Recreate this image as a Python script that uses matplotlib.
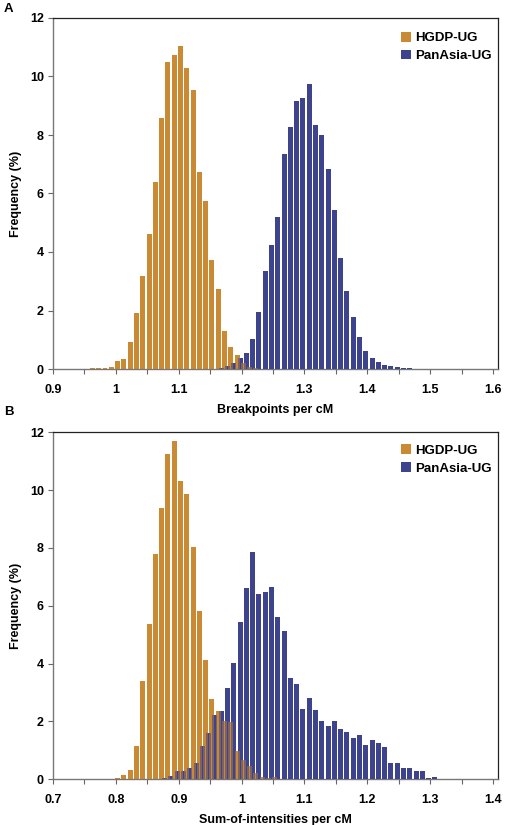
import numpy as np
import matplotlib
matplotlib.use("Agg")
import matplotlib.pyplot as plt
from matplotlib.patches import Patch
from matplotlib.ticker import MultipleLocator

plt.rcParams['font.family'] = ['Liberation Sans', 'DejaVu Sans']
plt.rcParams['font.weight'] = 'bold'

ORANGE = '#C98A33'
BLUE = '#3E438D'
series_names = ["HGDP-UG", "PanAsia-UG"]

# ---- Panel A: Breakpoints per cM (bin start, frequency %) ----
a_hgdp_bins = [0.95, 0.96, 0.97, 0.98, 0.99, 1.00, 1.01, 1.02, 1.03, 1.04, 1.05, 1.06, 1.07,
               1.08, 1.09, 1.10, 1.11, 1.12, 1.13, 1.14, 1.15, 1.16, 1.17, 1.18, 1.19,
               1.20, 1.21, 1.22]
a_hgdp_vals = [0.01, 0.03, 0.03, 0.05, 0.08, 0.26, 0.33, 0.91, 1.90, 3.17, 4.62, 6.40, 8.59,
               10.51, 10.72, 11.05, 10.28, 9.53, 6.72, 5.76, 3.74, 2.73, 1.29, 0.76, 0.49,
               0.19, 0.08, 0.03]
a_pan_bins = [1.16, 1.17, 1.18, 1.19, 1.20, 1.21, 1.22, 1.23, 1.24, 1.25, 1.26, 1.27, 1.28,
              1.29, 1.30, 1.31, 1.32, 1.33, 1.34, 1.35, 1.36, 1.37, 1.38, 1.39, 1.40,
              1.41, 1.42, 1.43, 1.44, 1.45, 1.46, 1.47]
a_pan_vals = [0.03, 0.10, 0.19, 0.36, 0.53, 1.01, 1.94, 3.34, 4.23, 5.18, 7.34, 8.26, 9.15,
              9.27, 9.75, 8.34, 8.00, 6.84, 5.42, 3.78, 2.68, 1.78, 1.11, 0.62, 0.37,
              0.24, 0.15, 0.10, 0.06, 0.03, 0.02, 0.01]

# ---- Panel B: Sum-of-intensities per cM ----
b_hgdp_bins = [0.80, 0.81, 0.82, 0.83, 0.84, 0.85, 0.86, 0.87, 0.88, 0.89, 0.90, 0.91, 0.92,
               0.93, 0.94, 0.95, 0.96, 0.97, 0.98, 0.99, 1.00, 1.01, 1.02, 1.03, 1.04, 1.05]
b_hgdp_vals = [0.06, 0.15, 0.33, 1.16, 3.40, 5.37, 7.78, 9.39, 11.26, 11.70, 10.33, 9.87, 8.05,
               5.81, 4.13, 2.78, 2.36, 2.03, 1.99, 0.98, 0.67, 0.47, 0.21, 0.08, 0.04, 0.09]
b_pan_bins = [0.87, 0.88, 0.89, 0.90, 0.91, 0.92, 0.93, 0.94, 0.95, 0.96, 0.97, 0.98, 0.99,
              1.00, 1.01, 1.02, 1.03, 1.04, 1.05, 1.06, 1.07, 1.08, 1.09, 1.10, 1.11,
              1.12, 1.13, 1.14, 1.15, 1.16, 1.17, 1.18, 1.19, 1.20, 1.21, 1.22, 1.23,
              1.24, 1.25, 1.26, 1.27, 1.28, 1.29, 1.30]
b_pan_vals = [0.03, 0.12, 0.27, 0.27, 0.40, 0.55, 1.16, 1.59, 2.21, 2.36, 3.17, 4.01, 5.43,
              6.62, 7.86, 6.41, 6.46, 6.66, 5.60, 5.14, 3.49, 3.29, 2.42, 2.82, 2.40,
              2.03, 1.84, 2.01, 1.73, 1.64, 1.42, 1.54, 1.18, 1.36, 1.27, 1.11, 0.55,
              0.58, 0.40, 0.38, 0.27, 0.30, 0.06, 0.09]

a_xticks = [0.9, 1.0, 1.1, 1.2, 1.3, 1.4, 1.5, 1.6]
a_xlabels = ["0.9", "1", "1.1", "1.2", "1.3", "1.4", "1.5", "1.6"]
b_xticks = [0.7, 0.8, 0.9, 1.0, 1.1, 1.2, 1.3, 1.4]
b_xlabels = ["0.7", "0.8", "0.9", "1", "1.1", "1.2", "1.3", "1.4"]
yticks = [0, 2, 4, 6, 8, 10, 12]

W, H = 506, 825
fig = plt.figure(figsize=(W / 100, H / 100), dpi=100)

BW = 0.0078
OFF_O = 0.0028
OFF_B = 0.0076


def panel(rect, hb, hv, pb, pv, xlim, xticks, xlabels, xlabel, letter, letter_y, leg_y):
    ax = fig.add_axes(rect)
    hb = np.array(hb); pb = np.array(pb)
    ax.bar(hb + OFF_O, hv, width=BW, color=ORANGE, linewidth=0, zorder=2)
    ax.bar(pb + OFF_B, pv, width=BW, color=BLUE, linewidth=0, zorder=3)
    ax.bar(hb + OFF_O, hv, width=BW, color=ORANGE, alpha=0.45, linewidth=0, zorder=4)
    ax.set_xlim(*xlim)
    ax.set_ylim(0, 12)
    ax.set_xticks(xticks)
    ax.set_xticklabels(xlabels)
    ax.xaxis.set_minor_locator(MultipleLocator(0.05))
    ax.set_yticks(yticks)
    ax.tick_params(axis='both', which='both', direction='out', length=3.5, width=0.8,
                   color='#666666', labelsize=9)
    ax.tick_params(axis='x', which='major', pad=7)
    ax.tick_params(axis='y', pad=3)
    for lab in ax.get_xticklabels() + ax.get_yticklabels():
        lab.set_fontweight('bold')
    for s in ['left', 'bottom']:
        ax.spines[s].set_color('#777777')
        ax.spines[s].set_linewidth(1.0)
    for s in ['top', 'right']:
        ax.spines[s].set_color('#222222')
        ax.spines[s].set_linewidth(0.9)
    ax.set_xlabel(xlabel, fontsize=9, fontweight='bold', labelpad=6)
    ax.set_ylabel("Frequency (%)", fontsize=9, fontweight='bold', labelpad=6)
    handles = [Patch(facecolor=ORANGE, edgecolor='none'), Patch(facecolor=BLUE, edgecolor='none')]
    leg = ax.legend(handles, series_names, loc='upper left', bbox_to_anchor=(0.783, leg_y),
                    frameon=False, fontsize=9.5, handlelength=0.75, handleheight=0.75,
                    handletextpad=0.3, labelspacing=0.4, borderaxespad=0, borderpad=0)
    for t in leg.get_texts():
        t.set_fontweight('bold')
    fig.text(4 / W, 1 - letter_y / H, letter, fontsize=9.5, fontweight='bold', va='center', ha='left')
    return ax


# Panel A: x 53..498 px, y 18..369 px
panel([53 / W, 1 - 369 / H, 445 / W, 351 / H], a_hgdp_bins, a_hgdp_vals, a_pan_bins, a_pan_vals,
      (0.9, 0.9 + 445 / 628.6), a_xticks, a_xlabels, "Breakpoints per cM", "A", 9, 0.96)
# Panel B: x 53..498 px, y 432..779 px
panel([53 / W, 1 - 779.3 / H, 445 / W, 347 / H], b_hgdp_bins, b_hgdp_vals, b_pan_bins, b_pan_vals,
      (0.7, 0.7 + 445 / 628.6), b_xticks, b_xlabels, "Sum-of-intensities per cM", "B", 412, 0.965)

fig.savefig("out.png", dpi=100)
